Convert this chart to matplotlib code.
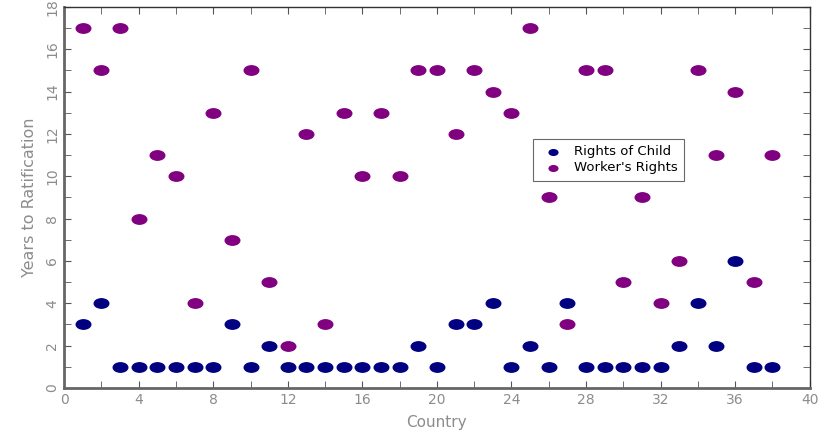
import matplotlib
matplotlib.use("Agg")
import matplotlib.pyplot as plt
from matplotlib.path import Path
from matplotlib.transforms import Affine2D
from matplotlib.ticker import MultipleLocator

# data
countries = list(range(1, 39))
rights_of_child = [3, 4, 1, 1, 1, 1, 1, 1, 3, 1, 2, 1, 1, 1, 1, 1, 1, 1, 2, 1,
                   3, 3, 4, 1, 2, 1, 4, 1, 1, 1, 1, 1, 2, 4, 2, 6, 1, 1]
workers_rights = [17, 15, 17, 8, 11, 10, 4, 13, 7, 15, 5, 2, 12, 3, 13, 10, 13, 10, 15, 15,
                  12, 15, 14, 13, 17, 9, 3, 15, 15, 5, 9, 4, 6, 15, 11, 14, 5, 11]
x_ticks = [0, 4, 8, 12, 16, 20, 24, 28, 32, 36, 40]
y_ticks = [0, 2, 4, 6, 8, 10, 12, 14, 16, 18]

plt.rcParams['font.family'] = ['DejaVu Sans']
grey = '#8c8c8c'

# flattened ellipse marker
ellipse = Path.unit_circle().transformed(Affine2D().scale(1.55, 1.0))

fig = plt.figure(figsize=(8.22, 4.33), dpi=100)
ax = fig.add_axes([0.078, 0.104, 0.907, 0.88])

ax.scatter(countries, rights_of_child, marker=ellipse, s=110, color='#000080',
           label='Rights of Child', zorder=3)
ax.scatter(countries, workers_rights, marker=ellipse, s=110, color='#800080',
           label="Worker's Rights", zorder=3)

ax.set_xlim(0, 40)
ax.set_ylim(0, 18)
ax.set_xticks(x_ticks)
ax.set_yticks(y_ticks)
ax.xaxis.set_minor_locator(MultipleLocator(2))
ax.yaxis.set_minor_locator(MultipleLocator(1))
ax.tick_params(which='both', direction='in', top=True, right=True,
               color='#555555', labelcolor=grey, labelsize=10)
ax.tick_params(which='major', length=5)
ax.tick_params(which='minor', length=5)
for lab in ax.get_yticklabels():
    lab.set_rotation(90)
    lab.set_va('center')

for side in ['left', 'bottom']:
    ax.spines[side].set_linewidth(2)
    ax.spines[side].set_color('#666666')
for side in ['top', 'right']:
    ax.spines[side].set_linewidth(1)
    ax.spines[side].set_color('#333333')

ax.set_xlabel('Country', color=grey, fontsize=11, labelpad=6)
ax.set_ylabel('Years to Ratification', color=grey, fontsize=11.5, labelpad=6)

leg = ax.legend(loc='upper left', bbox_to_anchor=(0.62, 0.672), fontsize=9.5,
                frameon=True, fancybox=False, edgecolor='#444444',
                handletextpad=0.6, borderpad=0.5, labelspacing=0.25,
                markerscale=0.6)
leg.get_frame().set_linewidth(0.8)

fig.savefig('out.png', dpi=100)
